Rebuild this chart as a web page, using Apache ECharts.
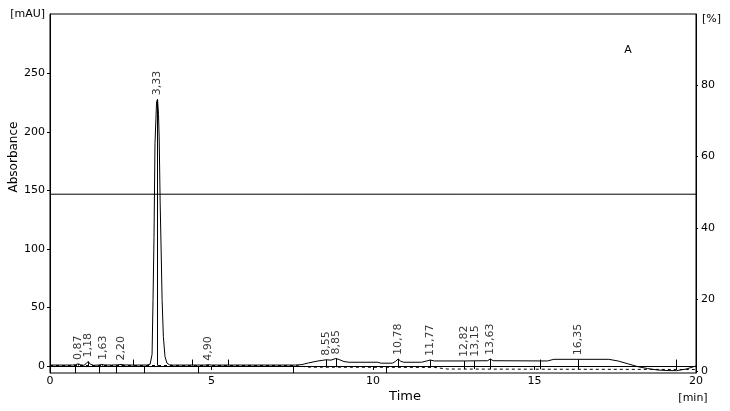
<!DOCTYPE html>
<html>
<head>
<meta charset="utf-8">
<script src="https://cdn.jsdelivr.net/npm/echarts@6/dist/echarts.min.js"></script>
<style>html,body{margin:0;padding:0;background:#fff}#c{width:730px;height:411px}</style>
</head>
<body>
<div id="c"></div>
<script>
// ---- data ----
const signalTime = [0.00,0.70,0.80,0.87,0.95,1.05,1.12,1.18,1.25,1.35,1.50,1.58,1.63,1.70,1.90,2.10,2.20,2.30,2.60,3.00,3.10,3.16,3.19,3.22,3.25,3.30,3.33,3.36,3.38,3.41,3.44,3.47,3.51,3.56,3.62,3.70,3.80,4.80,4.90,5.00,7.60,7.80,8.00,8.30,8.55,8.70,8.85,8.95,9.10,9.25,10.15,10.25,10.60,10.70,10.78,10.86,10.95,11.50,11.65,11.77,11.90,12.82,13.15,13.55,13.63,13.72,15.40,15.60,17.30,17.60,17.90,18.20,18.50,18.80,19.10,19.40,19.70,20.00];
const signalMAU  = [0.8,0.8,1.2,1.8,1.0,0.6,2.0,3.8,1.5,0.6,0.8,1.2,1.6,0.9,0.8,1.0,1.3,0.9,0.8,0.8,1.5,10,57,110,190,226,228,215,195,140,100,57,25,8,2.5,1,0.8,0.8,1.1,0.8,0.8,1.2,2.6,4.3,5.3,5.0,6.4,5.5,3.8,3.2,3.2,2.4,2.4,4.0,6.0,4.0,3.2,3.2,4.2,5.1,4.3,4.3,4.4,4.5,6.0,4.5,4.3,5.7,5.7,4.2,1.8,-0.6,-2.2,-3.4,-3.9,-4.0,-2.6,0.0];

const baselineTime = [0.0,7.6,8.0,11.9,12.3,16.0,20.0];
const baselineMAU  = [0.4,0.4,-1.0,-1.2,-2.6,-2.8,-3.0];

const peakTime   = [0.87,1.18,1.63,2.20,3.33,4.90,8.55,8.85,10.78,11.77,12.82,13.15,13.63,16.35];
const peakHeight = [1.8,3.8,1.6,1.3,228,1.1,5.3,6.4,6.0,5.1,4.3,4.4,6.0,5.7];

const eventLowTime  = [0.77,1.52,2.04,2.91,4.58,7.52,10.40];
const eventHighTime = [2.57,4.40,5.51,15.17,19.40];

const gradientTime = [0, 20];
const gradientPct  = [49.4, 49.4];

const xTicks = [0,5,10,15,20];
const yTicks = [0,50,100,150,200,250];
const pctTicks = [0,20,40,60,80];

// ---- chart ----
const FONT = 'DejaVu Sans';
const chart = echarts.init(document.getElementById('c'), null, {renderer:'canvas'});

function baseAt(t){
  for (let i=1;i<baselineTime.length;i++){
    if (t<=baselineTime[i]){
      const a=baselineTime[i-1], b=baselineTime[i];
      return baselineMAU[i-1]+(baselineMAU[i]-baselineMAU[i-1])*(t-a)/(b-a);
    }
  }
  return baselineMAU[baselineMAU.length-1];
}

const markerPairs = [];
eventLowTime.forEach(t=>markerPairs.push([{coord:[t,-6]},{coord:[t,0]}]));
eventHighTime.forEach(t=>markerPairs.push([{coord:[t,baseAt(t)]},{coord:[t,5.5]}]));
peakTime.forEach((t,i)=>markerPairs.push([{coord:[t,baseAt(t)]},{coord:[t,peakHeight[i]]}]));

const axisCommon = {
  axisLine:{show:true,lineStyle:{color:'#000',width:1}},
  splitLine:{show:false},
};

chart.setOption({
  animation:false,
  backgroundColor:'#fff',
  grid:{left:50,right:34,top:14,bottom:38,show:true,borderColor:'#000',borderWidth:1,backgroundColor:'transparent'},
  xAxis:{
    type:'value',min:0,max:20,
    ...axisCommon,
    axisTick:{show:true,length:4,lineStyle:{color:'#000'},customValues:xTicks},
    axisLabel:{color:'#000',fontFamily:FONT,fontSize:11,margin:3,customValues:xTicks}
  },
  yAxis:[{
    type:'value',min:-6,max:301,position:'left',
    ...axisCommon,
    axisTick:{show:true,length:3,lineStyle:{color:'#000'},customValues:yTicks},
    axisLabel:{color:'#000',fontFamily:FONT,fontSize:11,margin:5,customValues:yTicks}
  },{
    type:'value',min:-0.6,max:99.8,position:'right',
    ...axisCommon,
    axisTick:{show:true,length:2,lineStyle:{color:'#000'},customValues:pctTicks},
    axisLabel:{color:'#000',fontFamily:FONT,fontSize:11,margin:5,customValues:pctTicks}
  }],
  graphic:[
    {type:'text',left:null,x:45,y:14,style:{text:'[mAU]',fill:'#000',font:'11px '+FONT,align:'right',verticalAlign:'middle'}},
    {type:'text',x:14,y:157,rotation:Math.PI/2,style:{text:'Absorbance',fill:'#000',font:'12px '+FONT,align:'center',verticalAlign:'middle'}},
    {type:'text',x:405,y:397,style:{text:'Time',fill:'#000',font:'13px '+FONT,align:'center',verticalAlign:'middle'}},
    {type:'text',x:693,y:398,style:{text:'[min]',fill:'#000',font:'11px '+FONT,align:'center',verticalAlign:'middle'}},
    {type:'text',x:702,y:19,style:{text:'[%]',fill:'#000',font:'11px '+FONT,align:'left',verticalAlign:'middle'}},
    {type:'text',x:628,y:50,style:{text:'A',fill:'#000',font:'11px '+FONT,align:'center',verticalAlign:'middle'}}
  ],
  series:[
    {
      type:'line',name:'signal',xAxisIndex:0,yAxisIndex:0,
      data:signalTime.map((t,i)=>[t,signalMAU[i]]),
      showSymbol:false,symbol:'none',
      lineStyle:{color:'#000',width:1},z:3
    },
    {
      type:'line',name:'baseline',yAxisIndex:0,
      data:baselineTime.map((t,i)=>[t,baselineMAU[i]]),
      showSymbol:false,symbol:'none',
      lineStyle:{color:'#000',width:1,type:[3,3]},z:2,
      markLine:{silent:true,symbol:['none','none'],label:{show:false},
        lineStyle:{color:'#000',width:1,type:'solid'},data:markerPairs}
    },
    {
      type:'line',name:'gradient',yAxisIndex:1,
      data:gradientTime.map((t,i)=>[t,gradientPct[i]]),
      showSymbol:false,symbol:'none',
      lineStyle:{color:'#000',width:1},z:2
    },
    {
      type:'scatter',name:'peaks',yAxisIndex:0,
      symbolSize:0,
      data:peakTime.map((t,i)=>({value:[t,peakHeight[i]],name:t.toFixed(2).replace('.',',')})),
      label:{show:true,formatter:'{b}',position:'top',distance:4,rotate:90,align:'left',verticalAlign:'middle',
        color:'#000',fontFamily:FONT,fontSize:11,offset:[0,0]},
      z:4
    }
  ]
});
</script>
</body>
</html>
